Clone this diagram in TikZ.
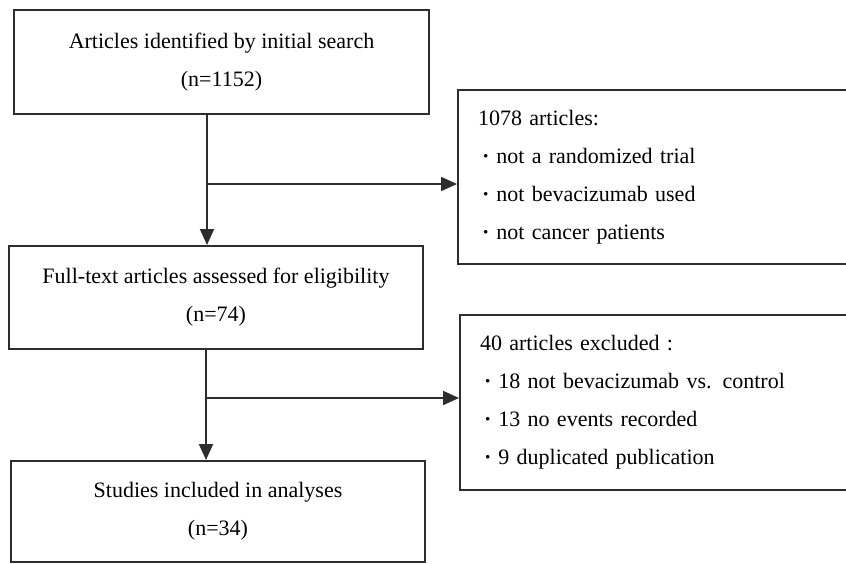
\documentclass[tikz,border=0pt]{standalone}
\usepackage{fontspec}
\setmainfont{Liberation Serif}
\usetikzlibrary{positioning}
\usetikzlibrary{arrows.meta}
\definecolor{frame2}{RGB}{45, 45, 45}
\tikzset{
stage/.style 2 args={draw=frame2, line width=1pt, minimum width=#1, minimum height=#2,
	inner sep=0pt, align=center, font=\fontsize{11}{19}\selectfont},
reasons/.style={draw=frame2, line width=1pt, anchor=north west, minimum height=#1,
	text width=201.5pt, inner xsep=10pt, inner ysep=0pt, align=left,
	font=\fontsize{11}{19}\selectfont},
flow/.style={draw=frame2, line width=1pt, -{Triangle[length=8pt,width=7pt]}},
}
\newcommand{\bulitem}{\hspace*{2pt}{\bfseries\textperiodcentered}\hspace{3.5pt}}

\begin{document}
\begin{tikzpicture}[x=0.5pt, y=-0.5pt]
\useasboundingbox (0,0) rectangle (846,563);
%Place the nodes
\node[stage={207.5pt}{52pt}] (search) at (221.5,62) {Articles identified by initial search\\(n=1152)};
\node[stage={207pt}{51.5pt}] (fulltext) at (216,297.5) {Full-text articles assessed for eligibility\\(n=74)};
\node[stage={207pt}{50.5pt}] (studies) at (218,511.5) {Studies included in analyses\\(n=34)};

\node[reasons={87pt}] (excl1) at (457,89) {1078 articles:\\\bulitem not a randomized trial\\\bulitem not bevacizumab used\\\bulitem not cancer patients};
\node[reasons={87.5pt}] (excl2) at (459,314) {40 articles excluded :\\\bulitem 18 not bevacizumab vs. control\\\bulitem 13 no events recorded\\\bulitem 9 duplicated publication};

%
\coordinate (split1) at (207,184);
\coordinate (split2) at (206,398);

%
\draw[flow] (search.south -| split1) to (fulltext.north -| split1);
\draw[flow] (split1) to (excl1.west |- split1);

%
\draw[flow] (fulltext.south -| split2) to (studies.north -| split2);
\draw[flow] (split2) to (excl2.west |- split2);

\end{tikzpicture}
\end{document}
